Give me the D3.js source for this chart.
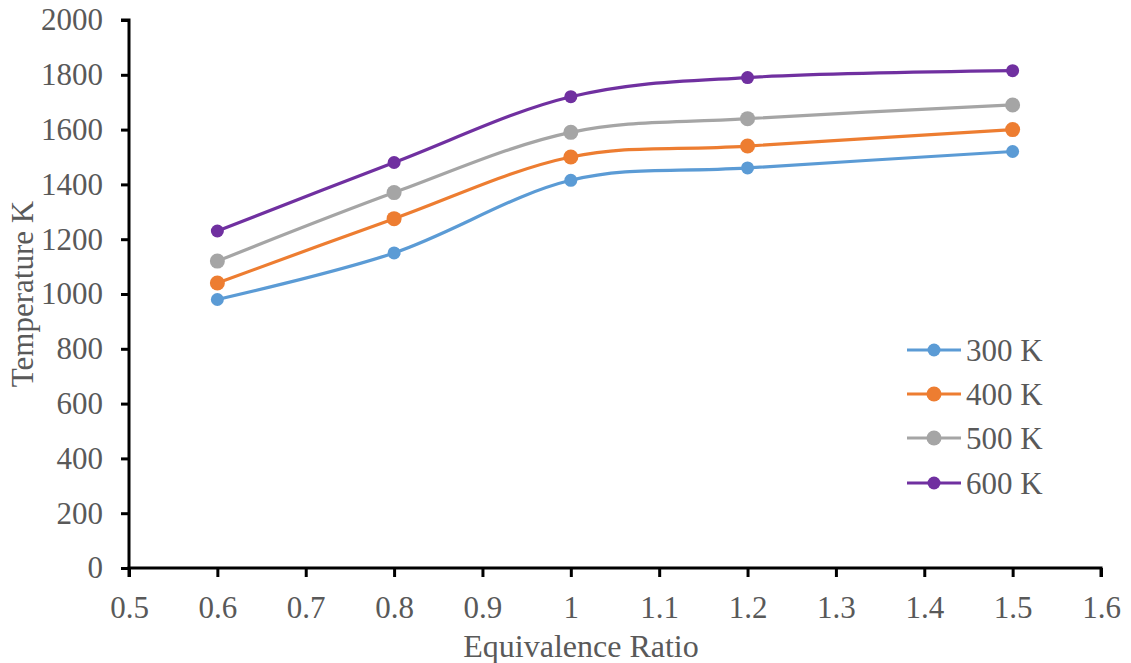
<!DOCTYPE html>
<html>
<head>
<meta charset="utf-8">
<script src="https://cdn.jsdelivr.net/npm/d3@7"></script>
<style>
  html, body { margin: 0; padding: 0; background: #fff; }
  svg { display: block; }
  text { font-family: "Liberation Serif", "Times New Roman", serif; fill: #595959; }
</style>
</head>
<body>
<svg id="chart" width="1131" height="663"></svg>
<script>
const equivalenceRatio = [0.6, 0.8, 1.0, 1.2, 1.5];
const seriesNames = ["300 K", "400 K", "500 K", "600 K"];
const temp300 = [980, 1150, 1415, 1460, 1520];
const temp400 = [1040, 1275, 1500, 1540, 1600];
const temp500 = [1120, 1370, 1590, 1640, 1690];
const temp600 = [1230, 1480, 1720, 1790, 1815];
const xTicks = [0.5, 0.6, 0.7, 0.8, 0.9, 1.0, 1.1, 1.2, 1.3, 1.4, 1.5, 1.6];
const yTicks = [0, 200, 400, 600, 800, 1000, 1200, 1400, 1600, 1800, 2000];
const colors = ["#5B9BD5", "#ED7D31", "#A5A5A5", "#7030A0"];
const markerR = [6.5, 7.5, 7.5, 6.5];

const seriesValues = [temp300, temp400, temp500, temp600];
const svg = d3.select("#chart");

const x = d3.scaleLinear().domain([0.5, 1.6]).range([129, 1101]);
const y = d3.scaleLinear().domain([0, 2000]).range([568, 20]);

// Axes
const xAxis = d3.axisBottom(x).tickValues(xTicks).tickSize(9).tickPadding(19)
  .tickFormat(d => d3.format("~g")(d));
const yAxis = d3.axisLeft(y).tickValues(yTicks).tickSize(8).tickPadding(18)
  .tickFormat(d3.format("d"));

const gx = svg.append("g").attr("transform", `translate(0,${y(0)})`).call(xAxis);
const gy = svg.append("g").attr("transform", `translate(${x(0.5)},0)`).call(yAxis);
[gx, gy].forEach(g => {
  g.select(".domain").attr("stroke", "#000").attr("stroke-width", 3);
  g.selectAll(".tick line").attr("stroke", "#000").attr("stroke-width", 3);
  g.selectAll(".tick text").attr("fill", "#595959")
    .style("font-family", '"Liberation Serif", "Times New Roman", serif')
    .style("font-size", "31px");
});
gx.select(".domain").attr("d", `M${x(0.5)},9V0H${x(1.6)}V9`);
gy.select(".domain").attr("d", `M-8,${y(2000)}H0V${y(0)}`);

// Axis titles
svg.append("text")
  .attr("x", 581).attr("y", 657)
  .attr("text-anchor", "middle")
  .style("font-size", "32px")
  .text("Equivalence Ratio");
svg.append("text")
  .attr("transform", "translate(33,294) rotate(-90)")
  .attr("text-anchor", "middle")
  .style("font-size", "31px")
  .text("Temperature K");

// Lines
const line = d3.line()
  .x((d, i) => x(equivalenceRatio[i]))
  .y(d => y(d))
  .curve(d3.curveCardinal.tension(0));

seriesValues.forEach((vals, s) => {
  svg.append("path")
    .attr("d", line(vals))
    .attr("fill", "none")
    .attr("stroke", colors[s])
    .attr("stroke-width", 3.2)
    .attr("stroke-linecap", "round");
  svg.append("g").selectAll("circle").data(vals).join("circle")
    .attr("cx", (d, i) => x(equivalenceRatio[i]))
    .attr("cy", d => y(d))
    .attr("r", markerR[s])
    .attr("fill", colors[s]);
});

// Legend
const legendY = [350, 394, 438, 483];
seriesNames.forEach((name, s) => {
  const g = svg.append("g").attr("transform", `translate(0,${legendY[s]})`);
  g.append("line").attr("x1", 907).attr("x2", 961).attr("y1", 0).attr("y2", 0)
    .attr("stroke", colors[s]).attr("stroke-width", 3.2);
  g.append("circle").attr("cx", 934).attr("cy", 0).attr("r", markerR[s]).attr("fill", colors[s]);
  g.append("text").attr("x", 966).attr("y", 0).attr("dy", "0.34em")
    .style("font-size", "31px").text(name);
});
</script>
</body>
</html>
